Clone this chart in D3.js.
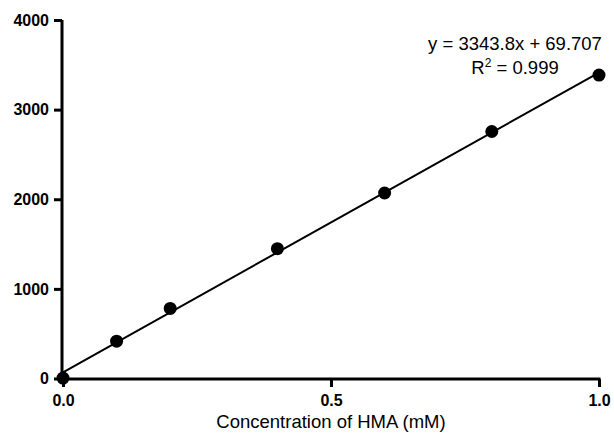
<html>
<head>
<script src="https://d3js.org/d3.v7.min.js"></script>
<style>
  body { margin: 0; background: white; }
  .axis path, .axis line { stroke: black; stroke-width: 3px; }
  .axis text { font-family: "Liberation Sans", Arial, sans-serif; font-size: 16px; font-weight: bold; fill: black; }
  .label { font-family: "Liberation Sans", Arial, sans-serif; fill: black; }
</style>
</head>
<body>
<svg id="chart" width="614" height="439"></svg>
<script>
  // data
  const conc = [0, 0.1, 0.2, 0.4, 0.6, 0.8, 1.0];
  const signal = [5, 417, 782, 1449, 2070, 2756, 3385];
  const xTicks = [0, 0.5, 1.0];
  const yTicks = [0, 1000, 2000, 3000, 4000];
  const slope = 3343.8, intercept = 69.707;

  const svg = d3.select("#chart");
  const x = d3.scaleLinear().domain([0, 1]).range([63, 599]);
  const y = d3.scaleLinear().domain([0, 4000]).range([378.5, 20]);

  // fit line
  svg.append("line")
     .attr("x1", x(0)).attr("y1", y(intercept))
     .attr("x2", x(1)).attr("y2", y(slope + intercept))
     .attr("stroke", "black").attr("stroke-width", 2);

  svg.append("g").attr("class", "axis")
     .attr("transform", "translate(62,0)")
     .call(d3.axisLeft(y).tickValues(yTicks).tickFormat(d3.format("d")).tickSize(8).tickSizeOuter(0).tickPadding(5))
     .select(".domain").attr("d", "M0," + y(4000) + "V" + (y(0) + 1.5));

  const xg = svg.append("g").attr("class", "axis")
     .attr("transform", "translate(0,379)")
     .call(d3.axisBottom(x).tickValues(xTicks).tickFormat(d3.format(".1f")).tickSize(8).tickSizeOuter(0).tickPadding(8));
  xg.select(".domain").attr("d", "M60.5,0H" + (x(1) + 1.5));

  svg.selectAll("circle.pt").data(conc)
     .join("circle")
     .attr("class", "pt")
     .attr("cx", d => x(d))
     .attr("cy", (d, i) => y(signal[i]))
     .attr("r", 6.5)
     .attr("fill", "black");

  svg.append("text").attr("class", "label")
     .attr("x", 331).attr("y", 428)
     .attr("text-anchor", "middle").style("font-size", "18.5px")
     .text("Concentration of HMA (mM)");

  svg.append("text").attr("class", "label")
     .attr("x", 515).attr("y", 50)
     .attr("text-anchor", "middle").style("font-size", "18.5px")
     .text("y = 3343.8x + 69.707");

  const r2 = svg.append("text").attr("class", "label")
     .attr("x", 515).attr("y", 74)
     .attr("text-anchor", "middle").style("font-size", "18.5px");
  r2.append("tspan").text("R");
  r2.append("tspan").attr("dy", -7).style("font-size", "12px").text("2");
  r2.append("tspan").attr("dy", 7).text(" = 0.999");
</script>
</body>
</html>
